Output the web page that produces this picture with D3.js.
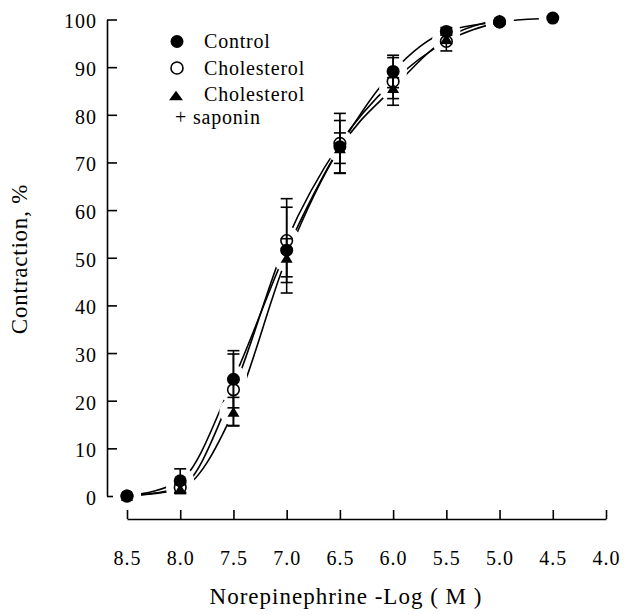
<!DOCTYPE html>
<html>
<head>
<meta charset="utf-8">
<script src="https://cdn.jsdelivr.net/npm/d3@7"></script>
<style>
  body { margin: 0; background: #fff; }
  text { font-family: "Liberation Serif", "Times New Roman", serif; fill: #000; }
  .tick text { font-size: 20px; letter-spacing: 1px; }
  .domain, .tick line { stroke: #000; stroke-width: 1.6px; }
</style>
</head>
<body>
<div id="chart"></div>
<script>
// -log(M) doses
var doses = [8.5, 8.0, 7.5, 7.0, 6.5, 6.0, 5.5, 5.0, 4.5];
var xTicks = [8.5, 8.0, 7.5, 7.0, 6.5, 6.0, 5.5, 5.0, 4.5, 4.0];
var yTicks = [0, 10, 20, 30, 40, 50, 60, 70, 80, 90, 100];

// contraction %, mean and error
var control    = [0, 3.2, 24.5, 51.6, 73.3, 89.1, 97.5, 99.5, 100.3];
var controlErr = [0, 2.5, 6.0, 9.0, 5.5, 3.4, 0.8, 0, 0];
var chol       = [0, 1.8, 22.3, 53.6, 74.0, 87.0, 95.4, 99.5];
var cholErr    = [0, 1.0, 7.5, 8.8, 6.3, 5.0, 2.0, 0];
var sap        = [0, 1.5, 17.7, 50.0, 73.0, 85.6, 96.0, 100];
var sapErr     = [0, 1.0, 3.0, 4.0, 3.2, 2.2, 1.0, 0];

var svgWidth = 625;
var svgHeight = 615;

var svg = d3.select("#chart")
  .append("svg")
  .attr("width", svgWidth)
  .attr("height", svgHeight);

var x = d3.scaleLinear().domain([8.5, 4.0]).range([127, 606]);
var y = d3.scaleLinear().domain([0, 100]).range([496, 19.5]);

// axes
var xAxis = svg.append("g")
  .attr("transform", "translate(0,519)")
  .call(d3.axisBottom(x).tickValues(xTicks).tickFormat(d3.format(".1f"))
    .tickSize(-9).tickSizeOuter(0));
xAxis.selectAll("text").attr("y", 46).attr("dy", 0);

var yAxis = svg.append("g")
  .attr("transform", "translate(107,0)")
  .call(d3.axisLeft(y).tickValues(yTicks).tickSize(-10).tickSizeOuter(0).tickPadding(10));
yAxis.selectAll("text").attr("dy", "0.42em");

// axis titles
svg.append("text")
  .attr("x", 346)
  .attr("y", 604)
  .attr("text-anchor", "middle")
  .style("font-size", "23px")
  .style("letter-spacing", "1px")
  .text("Norepinephrine  -Log ( M )");

svg.append("text")
  .attr("transform", "translate(27,259) rotate(-90)")
  .attr("text-anchor", "middle")
  .style("font-size", "23px")
  .style("letter-spacing", "0.8px")
  .text("Contraction, %");

var series = [
  { name: "control", vals: control, err: controlErr },
  { name: "chol", vals: chol, err: cholErr },
  { name: "sap", vals: sap, err: sapErr }
];

function pts(s) {
  return s.vals.map(function(v, i) { return { x: doses[i], y: v, e: s.err[i] }; });
}

var line = d3.line()
  .x(function(d) { return x(d.x); })
  .y(function(d) { return y(d.y); })
  .curve(d3.curveMonotoneX);

var plot = svg.append("g");

series.forEach(function(s) {
  plot.append("path")
    .datum(pts(s))
    .attr("d", line)
    .attr("fill", "none")
    .attr("stroke", "#000")
    .attr("stroke-width", 1.6);
});

// break the lines around the points
series.forEach(function(s) {
  plot.selectAll(null)
    .data(pts(s))
    .enter()
    .append("circle")
    .attr("cx", function(d) { return x(d.x); })
    .attr("cy", function(d) { return y(d.y); })
    .attr("r", 14)
    .attr("fill", "#fff");
});

// error bars
series.forEach(function(s) {
  var g = plot.selectAll(null)
    .data(pts(s).filter(function(d) { return d.e > 0; }))
    .enter()
    .append("g")
    .attr("stroke", "#000")
    .attr("stroke-width", 1.6);
  g.append("line")
    .attr("x1", function(d) { return x(d.x); })
    .attr("x2", function(d) { return x(d.x); })
    .attr("y1", function(d) { return y(d.y - d.e); })
    .attr("y2", function(d) { return y(d.y + d.e); });
  [-1, 1].forEach(function(sign) {
    g.append("line")
      .attr("x1", function(d) { return x(d.x) - 6; })
      .attr("x2", function(d) { return x(d.x) + 6; })
      .attr("y1", function(d) { return y(d.y + sign * d.e); })
      .attr("y2", function(d) { return y(d.y + sign * d.e); });
  });
});

function tri(cx, cy, w, h) {
  return "M" + cx + "," + (cy - h / 2) + "L" + (cx + w / 2) + "," + (cy + h / 2) +
    "L" + (cx - w / 2) + "," + (cy + h / 2) + "Z";
}

// markers
plot.selectAll(".tri")
  .data(pts(series[2]))
  .enter()
  .append("path")
  .attr("class", "tri")
  .attr("d", function(d) { return tri(x(d.x), y(d.y), 12, 10); })
  .attr("fill", "#000");

plot.selectAll(".open")
  .data(pts(series[1]))
  .enter()
  .append("circle")
  .attr("class", "open")
  .attr("cx", function(d) { return x(d.x); })
  .attr("cy", function(d) { return y(d.y); })
  .attr("r", 5.8)
  .attr("fill", "none")
  .attr("stroke", "#000")
  .attr("stroke-width", 1.6);

plot.selectAll(".filled")
  .data(pts(series[0]))
  .enter()
  .append("circle")
  .attr("class", "filled")
  .attr("cx", function(d) { return x(d.x); })
  .attr("cy", function(d) { return y(d.y); })
  .attr("r", 6.5)
  .attr("fill", "#000");

// legend
var legend = svg.append("g").style("font-size", "20px").style("letter-spacing", "0.8px");
legend.append("circle").attr("cx", 177).attr("cy", 41.5).attr("r", 6.5).attr("fill", "#000");
legend.append("text").attr("x", 204).attr("y", 48).text("Control");
legend.append("circle").attr("cx", 177).attr("cy", 68).attr("r", 6).attr("fill", "none")
  .attr("stroke", "#000").attr("stroke-width", 1.6);
legend.append("text").attr("x", 204).attr("y", 74.5).text("Cholesterol");
legend.append("path").attr("d", tri(176, 95.5, 14, 9.5)).attr("fill", "#000");
legend.append("text").attr("x", 204).attr("y", 100.7).text("Cholesterol");
legend.append("text").attr("x", 175).attr("y", 124).text("+ saponin");
</script>
</body>
</html>
